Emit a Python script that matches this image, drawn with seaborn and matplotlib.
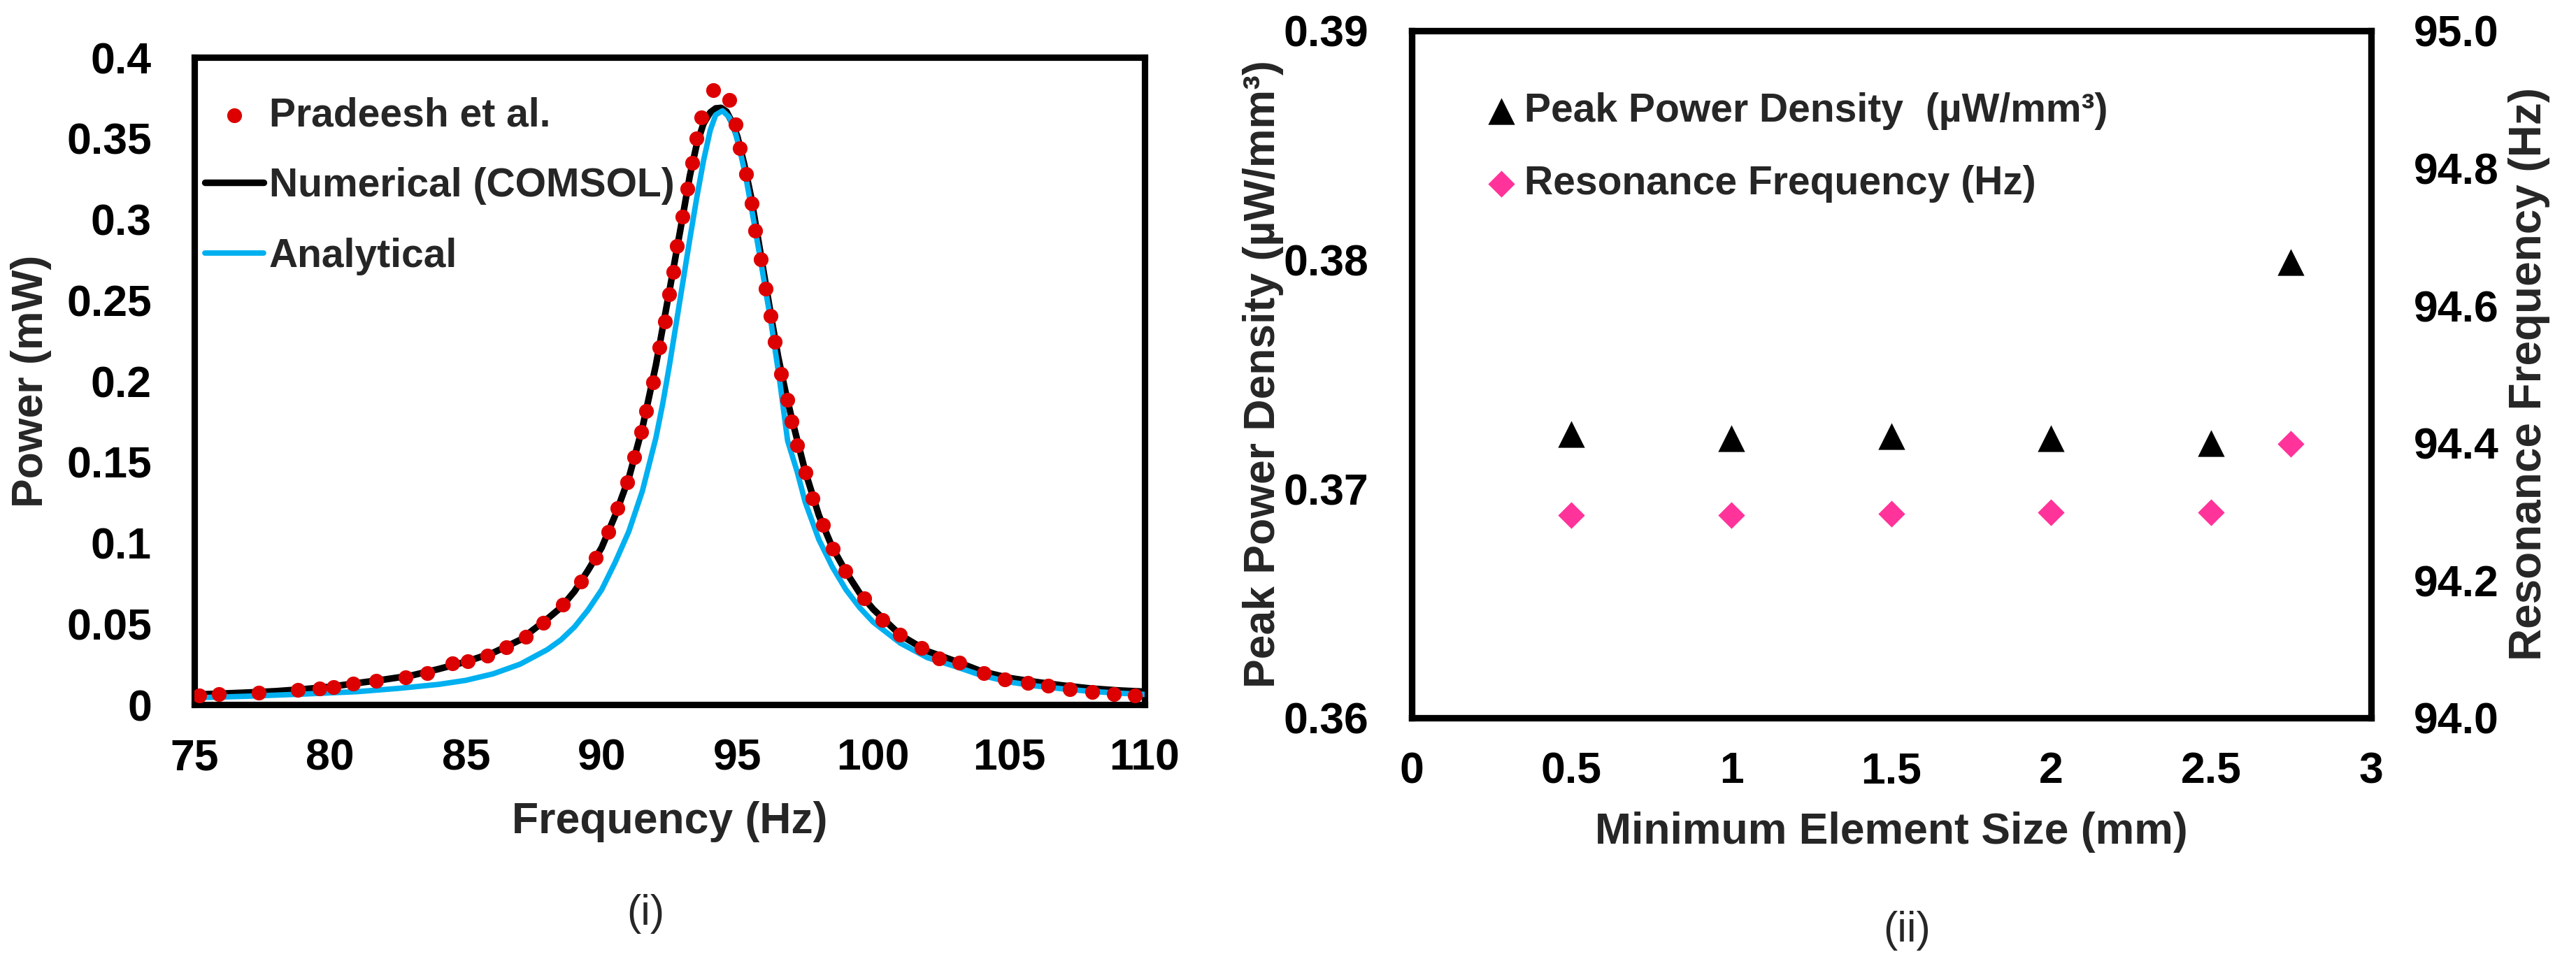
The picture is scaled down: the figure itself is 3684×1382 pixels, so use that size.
import matplotlib
matplotlib.use("Agg")
import matplotlib.pyplot as plt
import numpy as np
import seaborn as sns
from matplotlib.ticker import FuncFormatter

# ---- (i) frequency response ----
pradeesh_freq = [75.18, 75.90, 77.37, 78.81, 79.61, 80.12, 80.85, 81.70, 82.77, 83.58,
                 84.50, 85.08, 85.80, 86.49, 87.21, 87.84, 88.57, 89.24, 89.77, 90.25,
                 90.59, 90.95, 91.21, 91.45, 91.64, 91.90, 92.12, 92.32, 92.48, 92.63,
                 92.78, 92.98, 93.15, 93.34, 93.48, 93.68, 94.11, 94.69, 94.94, 95.10,
                 95.31, 95.53, 95.65, 95.87, 96.04, 96.23, 96.38, 96.60, 96.84, 97.00,
                 97.20, 97.50, 97.76, 98.16, 98.51, 98.98, 99.66, 100.33, 100.98, 101.79,
                 102.44, 103.17, 104.08, 104.84, 105.70, 106.45, 107.24, 108.08, 108.87, 109.65]
pradeesh_power = [0.0056, 0.0065, 0.0073, 0.0091, 0.0099, 0.0108, 0.0128, 0.0145, 0.0170, 0.0193,
                  0.0255, 0.0268, 0.0304, 0.0354, 0.0421, 0.0507, 0.0618, 0.0762, 0.0906, 0.1068,
                  0.1215, 0.1374, 0.1529, 0.1683, 0.1813, 0.1993, 0.2207, 0.2367, 0.2537, 0.2675,
                  0.2834, 0.3015, 0.3190, 0.3350, 0.3500, 0.3627, 0.3796, 0.3738, 0.3585, 0.3440,
                  0.3280, 0.3098, 0.2929, 0.2753, 0.2572, 0.2403, 0.2241, 0.2043, 0.1885, 0.1748,
                  0.1604, 0.1434, 0.1273, 0.1111, 0.0963, 0.0824, 0.0655, 0.0524, 0.0431, 0.0349,
                  0.0286, 0.0258, 0.0193, 0.0157, 0.0133, 0.0117, 0.0095, 0.0078, 0.0063, 0.0056]

numerical_freq = [75, 76, 77, 78, 79, 80, 81, 82, 83, 84, 85, 86, 87, 88, 88.5, 89, 89.5, 90,
                  90.5, 91, 91.5, 92, 92.5, 93, 93.25, 93.5, 93.75, 94, 94.2, 94.4, 94.6, 94.8,
                  95, 95.25, 95.5, 95.75, 96, 96.25, 96.5, 96.75, 97, 97.5, 98, 98.5, 99, 99.5,
                  100, 101, 102, 103, 104, 105, 106, 107, 108, 109, 110]
numerical_power = [0.0062, 0.0068, 0.0075, 0.0083, 0.0095, 0.0110, 0.0133, 0.0155, 0.0180, 0.0220,
                   0.0265, 0.0320, 0.0400, 0.0530, 0.0600, 0.0700, 0.0830, 0.0970, 0.1170, 0.1400,
                   0.1710, 0.2100, 0.2560, 0.3030, 0.3270, 0.3460, 0.3590, 0.3660, 0.3685, 0.3688,
                   0.3665, 0.3600, 0.3510, 0.3340, 0.3140, 0.2890, 0.2640, 0.2390, 0.2150, 0.1950,
                   0.1770, 0.1440, 0.1170, 0.0970, 0.0820, 0.0690, 0.0590, 0.0430, 0.0330, 0.0270,
                   0.0205, 0.0165, 0.0140, 0.0118, 0.0100, 0.0088, 0.0080]

analytical_freq = [75, 77, 79, 81, 82.5, 84, 85, 86, 87, 88, 88.5, 89, 89.5, 90, 90.5, 91, 91.5,
                   92, 92.25, 92.5, 92.75, 93, 93.25, 93.5, 93.75, 94, 94.2, 94.45, 94.7, 94.9,
                   95.1, 95.3, 95.6, 95.9, 96.25, 96.55, 96.85, 97.2, 97.5, 98, 98.5, 99, 99.5,
                   100, 101, 102, 103, 104, 105, 106, 107, 108, 109, 110]
analytical_power = [0.0042, 0.0052, 0.0065, 0.0080, 0.0100, 0.0125, 0.0150, 0.0190, 0.0250, 0.0340,
                    0.0400, 0.0480, 0.0585, 0.0710, 0.0880, 0.1070, 0.1320, 0.1650, 0.1860, 0.2100,
                    0.2360, 0.2620, 0.2880, 0.3130, 0.3360, 0.3550, 0.3645, 0.3670, 0.3630, 0.3550,
                    0.3420, 0.3270, 0.2990, 0.2700, 0.2350, 0.2010, 0.1630, 0.1440, 0.1250, 0.1020,
                    0.0850, 0.0710, 0.0600, 0.0510, 0.0380, 0.0290, 0.0237, 0.0180, 0.0140, 0.0115,
                    0.0097, 0.0082, 0.0071, 0.0063]

# ---- (ii) mesh convergence ----
element_size = [0.5, 1.0, 1.5, 2.0, 2.5, 2.75]
peak_power_density = [0.3724, 0.3722, 0.3723, 0.3722, 0.3720, 0.3799]
resonance_freq = [94.295, 94.295, 94.297, 94.299, 94.299, 94.399]

RED = "#DD0000"
CYAN = "#00B0F0"
PINK = "#FF3399"
TICK_FS = 22.5
LEG_FS = 20.5
LABEL_FS = 22.5

sns.set_theme(style="white")
plt.rcParams["font.family"] = ["Liberation Sans", "DejaVu Sans"]
plt.rcParams["font.weight"] = "bold"
plt.rcParams["axes.labelweight"] = "bold"

fig = plt.figure(figsize=(18.42, 6.91), dpi=200)
ax1 = fig.add_axes([0.07546, 0.2706, 0.3689, 0.670])
ax2 = fig.add_axes([0.5480, 0.2569, 0.3724, 0.7113])
ax3 = ax2.twinx()


def style_axes(ax):
    for sp in ax.spines.values():
        sp.set_linewidth(3.3)
        sp.set_color("black")
        sp.set_visible(True)
    ax.tick_params(axis="both", length=0, labelsize=TICK_FS, colors="black")
    ax.tick_params(axis="x", pad=17)
    ax.tick_params(axis="y", pad=22)
    ax.grid(False)


# left panel
sns.lineplot(x=numerical_freq, y=numerical_power, ax=ax1, color="black", linewidth=3.4,
             label="Numerical (COMSOL)", zorder=2)
sns.lineplot(x=analytical_freq, y=analytical_power, ax=ax1, color=CYAN, linewidth=2.8,
             label="Analytical", zorder=3)
sns.scatterplot(x=pradeesh_freq, y=pradeesh_power, ax=ax1, color=RED, s=58, linewidth=0,
                label="Pradeesh et al.", zorder=4)
ax1.set_xlim(75, 110)
ax1.set_ylim(0, 0.4)
ax1.set_xticks(np.arange(75, 111, 5))
ax1.set_yticks(np.round(np.arange(0, 0.401, 0.05), 2))
ax1.yaxis.set_major_formatter(FuncFormatter(lambda v, p: f"{v:g}"))
style_axes(ax1)
ax1.set_xlabel("Frequency (Hz)", fontsize=LABEL_FS, fontweight="bold", va="center")
ax1.set_ylabel("Power (mW)", fontsize=LABEL_FS, fontweight="bold", va="center")
ax1.xaxis.set_label_coords(0.5, -0.181)
ax1.yaxis.set_label_coords(-0.172, 0.5)

h, l = ax1.get_legend_handles_labels()
order = [l.index("Pradeesh et al."), l.index("Numerical (COMSOL)"), l.index("Analytical")]
ax1.legend([h[i] for i in order], [l[i] for i in order], loc="upper left",
           bbox_to_anchor=(0.0795, 0.900), bbox_transform=fig.transFigure,
           frameon=False, handlelength=1.47, handletextpad=0.14,
           labelspacing=0.82, borderpad=0, borderaxespad=0,
           prop={"weight": "bold", "size": LEG_FS})

# right panel
sns.scatterplot(x=element_size, y=peak_power_density, ax=ax2, marker="^", color="black",
                s=190, linewidth=0, label="Peak Power Density  (µW/mm³)", zorder=3)
sns.scatterplot(x=element_size, y=resonance_freq, ax=ax3, marker="D", color=PINK,
                s=95, linewidth=0, label="Resonance Frequency (Hz)", zorder=3)
ax2.set_xlim(0, 3)
ax2.set_ylim(0.36, 0.39)
ax3.set_ylim(94.0, 95.0)
ax2.set_xticks([0, 0.5, 1, 1.5, 2, 2.5, 3])
ax2.xaxis.set_major_formatter(FuncFormatter(lambda v, p: f"{v:g}"))
ax2.set_yticks([0.36, 0.37, 0.38, 0.39])
ax2.yaxis.set_major_formatter(FuncFormatter(lambda v, p: f"{v:.2f}"))
ax3.set_yticks(np.round(np.arange(94.0, 95.01, 0.2), 1))
ax3.yaxis.set_major_formatter(FuncFormatter(lambda v, p: f"{v:.1f}"))
style_axes(ax2)
style_axes(ax3)
ax2.set_xlabel("Minimum Element Size (mm)", fontsize=LABEL_FS, fontweight="bold", va="center")
ax2.set_ylabel("Peak Power Density (µW/mm³)", fontsize=LABEL_FS, fontweight="bold", va="center")
ax3.set_ylabel("Resonance Frequency (Hz)", fontsize=23, fontweight="bold", va="center",
               rotation=90)
ax2.xaxis.set_label_coords(0.5, -0.166)
ax2.yaxis.set_label_coords(-0.155, 0.5)
ax3.yaxis.set_label_coords(1.165, 0.5)

h2, l2 = ax2.get_legend_handles_labels()
h3, l3 = ax3.get_legend_handles_labels()
if ax2.get_legend() is not None:
    ax2.get_legend().remove()
if ax3.get_legend() is not None:
    ax3.get_legend().remove()
ax3.legend(h2 + h3, l2 + l3, loc="upper left", bbox_to_anchor=(0.575, 0.9045),
           bbox_transform=fig.transFigure, frameon=False, handlelength=1.0,
           handletextpad=0.08, labelspacing=0.88, borderpad=0, borderaxespad=0,
           prop={"weight": "bold", "size": LEG_FS})

fig.text(923 / 3684, 1 - 1308 / 1382, "(i)", ha="center", va="center", fontsize=22,
         fontweight="normal")
fig.text(2727 / 3684, 1 - 1331 / 1382, "(ii)", ha="center", va="center", fontsize=22,
         fontweight="normal")

fig.savefig("out.png", dpi=200, facecolor="white")
